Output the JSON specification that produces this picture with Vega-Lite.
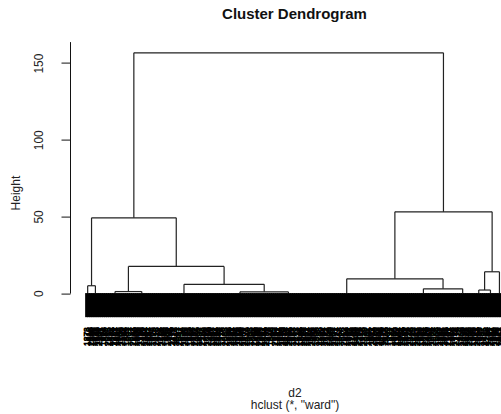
{
  "$schema": "https://vega.github.io/schema/vega-lite/v6.json",
  "autosize": {"type": "none"},
  "padding": {"left": 70, "top": 41.6, "right": 0, "bottom": 121},
  "width": 449,
  "height": 251.5,
  "background": "white",
  "config": {"font": "Liberation Sans", "view": {"stroke": null}},
  "title": {"text": "Cluster Dendrogram", "fontSize": 15, "fontWeight": "bold", "color": "#111", "anchor": "middle", "frame": "group", "offset": 20},
  "datasets": {
    "leaves": [
      {"x":1,"lab":"1873"},{"x":2,"lab":"412"},{"x":3,"lab":"2290"},{"x":4,"lab":"1056"},{"x":5,"lab":"731"},
      {"x":6,"lab":"1948"},{"x":7,"lab":"2207"},{"x":8,"lab":"365"},{"x":9,"lab":"1624"},{"x":10,"lab":"889"},
      {"x":11,"lab":"2015"},{"x":12,"lab":"1432"},{"x":13,"lab":"578"},{"x":14,"lab":"2381"},{"x":15,"lab":"1167"},
      {"x":16,"lab":"943"},{"x":17,"lab":"1705"},{"x":18,"lab":"2109"},{"x":19,"lab":"264"},{"x":20,"lab":"1389"},
      {"x":21,"lab":"1991"},{"x":22,"lab":"657"},{"x":23,"lab":"2243"},{"x":24,"lab":"1520"},{"x":25,"lab":"806"},
      {"x":26,"lab":"1758"},{"x":27,"lab":"2336"},{"x":28,"lab":"119"},{"x":29,"lab":"1294"},{"x":30,"lab":"2061"},
      {"x":31,"lab":"1847"},{"x":32,"lab":"503"},{"x":33,"lab":"1615"},{"x":34,"lab":"2418"},{"x":35,"lab":"972"},
      {"x":36,"lab":"1236"},{"x":37,"lab":"2154"},{"x":38,"lab":"388"},{"x":39,"lab":"1683"},{"x":40,"lab":"1902"},
      {"x":41,"lab":"745"},{"x":42,"lab":"2279"},{"x":43,"lab":"1118"},{"x":44,"lab":"1561"},{"x":45,"lab":"2047"},
      {"x":46,"lab":"834"},{"x":47,"lab":"1376"},{"x":48,"lab":"2195"},{"x":49,"lab":"621"},{"x":50,"lab":"1729"},
      {"x":51,"lab":"1964"},{"x":52,"lab":"287"},{"x":53,"lab":"2322"},{"x":54,"lab":"1085"},{"x":55,"lab":"1497"},
      {"x":56,"lab":"2128"},{"x":57,"lab":"706"},{"x":58,"lab":"1812"},{"x":59,"lab":"2260"},{"x":60,"lab":"439"},
      {"x":61,"lab":"1653"},{"x":62,"lab":"1021"},{"x":63,"lab":"2394"},{"x":64,"lab":"1338"},{"x":65,"lab":"914"},
      {"x":66,"lab":"1776"},{"x":67,"lab":"2083"},{"x":68,"lab":"552"},{"x":69,"lab":"1459"},{"x":70,"lab":"2231"},
      {"x":71,"lab":"1197"},{"x":72,"lab":"768"},{"x":73,"lab":"1925"},{"x":74,"lab":"2356"},{"x":75,"lab":"346"},
      {"x":76,"lab":"1587"},{"x":77,"lab":"2172"},{"x":78,"lab":"1049"},{"x":79,"lab":"1703"},{"x":80,"lab":"862"},
      {"x":81,"lab":"2008"},{"x":82,"lab":"1416"},{"x":83,"lab":"598"},{"x":84,"lab":"2305"},{"x":85,"lab":"1261"},
      {"x":86,"lab":"1834"},{"x":87,"lab":"2139"},{"x":88,"lab":"473"},{"x":89,"lab":"1548"},{"x":90,"lab":"995"},
      {"x":91,"lab":"2267"},{"x":92,"lab":"1352"},{"x":93,"lab":"687"},{"x":94,"lab":"1889"},{"x":95,"lab":"2410"},
      {"x":96,"lab":"1174"},{"x":97,"lab":"1637"},{"x":98,"lab":"2036"},{"x":99,"lab":"819"},{"x":100,"lab":"1483"},
      {"x":101,"lab":"2213"},{"x":102,"lab":"531"},{"x":103,"lab":"1746"},{"x":104,"lab":"1068"},{"x":105,"lab":"2347"},
      {"x":106,"lab":"1312"},{"x":107,"lab":"927"},{"x":108,"lab":"1958"},{"x":109,"lab":"2095"},{"x":110,"lab":"404"},
      {"x":111,"lab":"1596"},{"x":112,"lab":"2288"},{"x":113,"lab":"1139"},{"x":114,"lab":"784"},{"x":115,"lab":"1871"},
      {"x":116,"lab":"2164"},{"x":117,"lab":"1405"},{"x":118,"lab":"643"},{"x":119,"lab":"1987"},{"x":120,"lab":"2371"},
      {"x":121,"lab":"1227"},{"x":122,"lab":"1668"},{"x":123,"lab":"876"},{"x":124,"lab":"2052"},{"x":125,"lab":"1534"},
      {"x":126,"lab":"317"},{"x":127,"lab":"1795"},{"x":128,"lab":"2246"},{"x":129,"lab":"1103"},{"x":130,"lab":"1446"},
      {"x":131,"lab":"2187"},{"x":132,"lab":"719"},{"x":133,"lab":"1918"},{"x":134,"lab":"2329"},{"x":135,"lab":"1282"},
      {"x":136,"lab":"955"},{"x":137,"lab":"1611"},{"x":138,"lab":"2074"},{"x":139,"lab":"486"},{"x":140,"lab":"1853"},
      {"x":141,"lab":"2401"},{"x":142,"lab":"1150"},{"x":143,"lab":"1572"},{"x":144,"lab":"2118"},{"x":145,"lab":"802"},
      {"x":146,"lab":"1737"},{"x":147,"lab":"1944"},{"x":148,"lab":"615"},{"x":149,"lab":"2299"},{"x":150,"lab":"1364"},
      {"x":151,"lab":"1011"},{"x":152,"lab":"2226"},{"x":153,"lab":"1689"},{"x":154,"lab":"447"},{"x":155,"lab":"1829"},
      {"x":156,"lab":"2146"},{"x":157,"lab":"1248"},{"x":158,"lab":"1517"},{"x":159,"lab":"2363"},{"x":160,"lab":"693"},
      {"x":161,"lab":"1972"},{"x":162,"lab":"1092"},{"x":163,"lab":"2253"},{"x":164,"lab":"1420"},{"x":165,"lab":"851"},
      {"x":166,"lab":"1766"},{"x":167,"lab":"2024"},{"x":168,"lab":"568"},{"x":169,"lab":"1603"},{"x":170,"lab":"2387"},
      {"x":171,"lab":"1186"},{"x":172,"lab":"1891"},{"x":173,"lab":"739"},{"x":174,"lab":"2101"},{"x":175,"lab":"1327"},
      {"x":176,"lab":"986"},{"x":177,"lab":"1718"},{"x":178,"lab":"2274"},{"x":179,"lab":"429"},{"x":180,"lab":"1469"},
      {"x":181,"lab":"2199"},{"x":182,"lab":"1036"},{"x":183,"lab":"1644"},{"x":184,"lab":"2318"},{"x":185,"lab":"793"},
      {"x":186,"lab":"1905"},{"x":187,"lab":"1272"},{"x":188,"lab":"2063"},{"x":189,"lab":"586"},{"x":190,"lab":"1557"},
      {"x":191,"lab":"2425"},{"x":192,"lab":"1128"},{"x":193,"lab":"1784"},{"x":194,"lab":"2157"},{"x":195,"lab":"934"},
      {"x":196,"lab":"1398"},{"x":197,"lab":"2236"},{"x":198,"lab":"671"},{"x":199,"lab":"1862"},{"x":200,"lab":"2311"}
    ],
    "merges": [
      {"x":23.6,"x2":171.8,"y":156.7,"y2":156.7},
      {"x":23.6,"x2":23.6,"y":156.7,"y2":49.1},
      {"x":171.8,"x2":171.8,"y":156.7,"y2":53.0},
      {"x":3.35,"x2":43.9,"y":49.1,"y2":49.1},
      {"x":3.35,"x2":3.35,"y":49.1,"y2":4.8},
      {"x":43.9,"x2":43.9,"y":49.1,"y2":17.4},
      {"x":1.5,"x2":5.2,"y":4.8,"y2":4.8},
      {"x":1.5,"x2":1.5,"y":4.8,"y2":0},
      {"x":5.2,"x2":5.2,"y":4.8,"y2":0},
      {"x":21.0,"x2":66.8,"y":17.4,"y2":17.4},
      {"x":21.0,"x2":21.0,"y":17.4,"y2":1.0},
      {"x":66.8,"x2":66.8,"y":17.4,"y2":5.7},
      {"x":14.6,"x2":27.4,"y":1.0,"y2":1.0},
      {"x":14.6,"x2":14.6,"y":1.0,"y2":0},
      {"x":27.4,"x2":27.4,"y":1.0,"y2":0},
      {"x":47.6,"x2":86.0,"y":5.7,"y2":5.7},
      {"x":47.6,"x2":47.6,"y":5.7,"y2":0},
      {"x":86.0,"x2":86.0,"y":5.7,"y2":0.8},
      {"x":74.4,"x2":97.6,"y":0.8,"y2":0.8},
      {"x":74.4,"x2":74.4,"y":0.8,"y2":0},
      {"x":97.6,"x2":97.6,"y":0.8,"y2":0},
      {"x":148.55,"x2":195.1,"y":53.0,"y2":53.0},
      {"x":148.55,"x2":148.55,"y":53.0,"y2":9.3},
      {"x":195.1,"x2":195.1,"y":53.0,"y2":13.9},
      {"x":125.5,"x2":171.6,"y":9.3,"y2":9.3},
      {"x":125.5,"x2":125.5,"y":9.3,"y2":0},
      {"x":171.6,"x2":171.6,"y":9.3,"y2":2.8},
      {"x":162.2,"x2":181.0,"y":2.8,"y2":2.8},
      {"x":162.2,"x2":162.2,"y":2.8,"y2":0},
      {"x":181.0,"x2":181.0,"y":2.8,"y2":0},
      {"x":191.5,"x2":198.6,"y":13.9,"y2":13.9},
      {"x":191.5,"x2":191.5,"y":13.9,"y2":2.0},
      {"x":198.6,"x2":198.6,"y":13.9,"y2":0},
      {"x":188.7,"x2":194.3,"y":2.0,"y2":2.0},
      {"x":188.7,"x2":188.7,"y":2.0,"y2":0},
      {"x":194.3,"x2":194.3,"y":2.0,"y2":0}
    ]
  },
  "layer": [
    {
      "data": {"name": "leaves"},
      "mark": {"type": "rule", "stroke": "#000", "strokeWidth": 3},
      "encoding": {
        "x": {"field": "x", "type": "quantitative"},
        "y": {"datum": 0},
        "y2": {"datum": -15.7}
      }
    },
    {
      "data": {"name": "leaves"},
      "mark": {"type": "text", "angle": 270, "align": "right", "baseline": "middle", "dx": -10, "fontSize": 8.5,
               "color": "#000", "stroke": "#000", "strokeWidth": 0.7},
      "encoding": {
        "x": {"field": "x", "type": "quantitative"},
        "y": {"datum": -15.7},
        "text": {"field": "lab"}
      }
    },
    {
      "data": {"name": "merges"},
      "mark": {"type": "rule", "stroke": "#222", "strokeWidth": 1.2},
      "encoding": {
        "x": {
          "field": "x", "type": "quantitative",
          "scale": {"domain": [-6.96, 207.96], "nice": false, "zero": false},
          "axis": {"domain": false, "ticks": false, "labels": false, "grid": false,
                   "title": ["d2", "hclust (*, \"ward\")"], "titleFontSize": 12, "titleFontWeight": "normal",
                   "titleColor": "#222", "titleY": 94, "titleBaseline": "top", "titleLineHeight": 12.5}
        },
        "x2": {"field": "x2"},
        "y": {
          "field": "y", "type": "quantitative",
          "scale": {"domain": [0, 164], "nice": false, "zero": false},
          "axis": {"values": [0, 50, 100, 150], "grid": false, "tickSize": 9, "tickColor": "#111", "domainColor": "#111",
                   "labelAngle": 270, "labelAlign": "center", "labelBaseline": "bottom", "labelPadding": 16,
                   "labelFontSize": 12, "labelColor": "#222",
                   "title": "Height", "titleFontSize": 12, "titleFontWeight": "normal", "titleColor": "#222",
                   "titleAngle": 270, "titleX": -47.5, "titleY": 151, "titleAlign": "center", "titleBaseline": "bottom"}
        },
        "y2": {"field": "y2"}
      }
    }
  ]
}
